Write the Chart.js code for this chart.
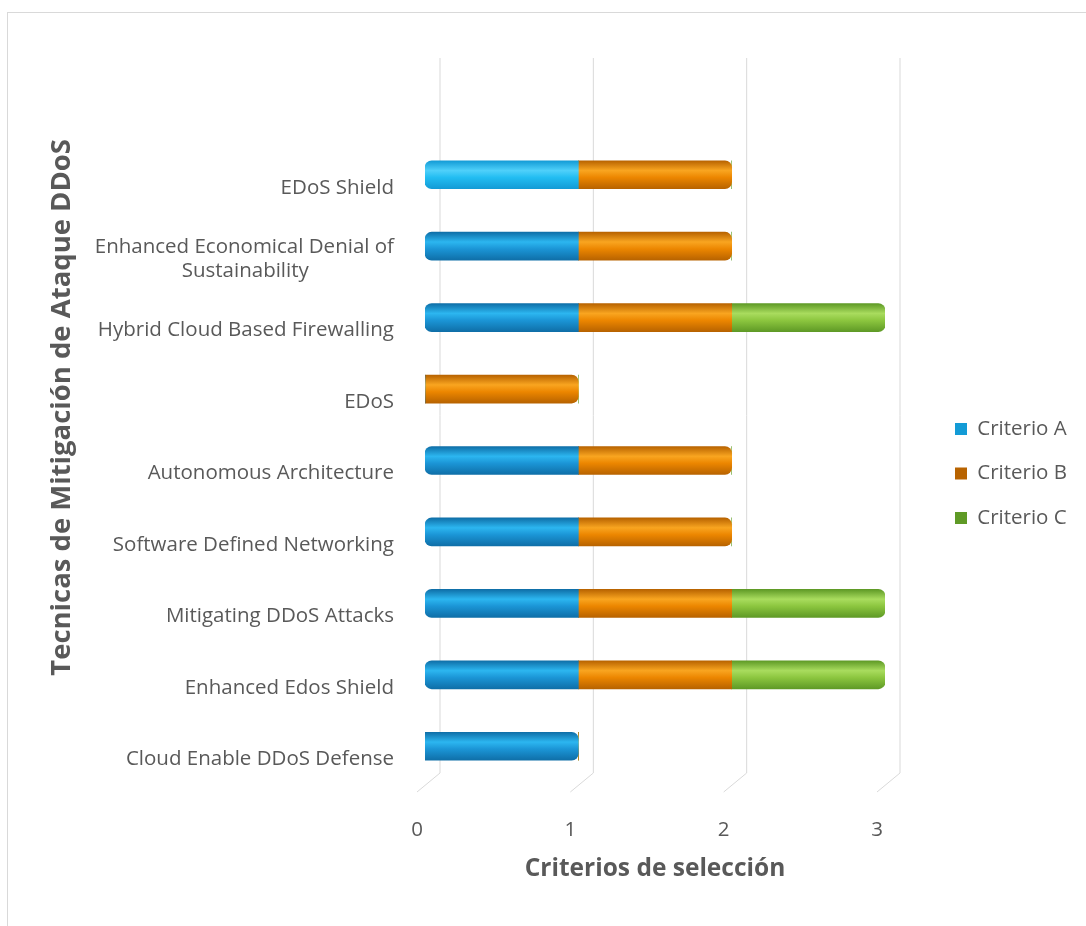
<!DOCTYPE html>
<html>
<head>
<meta charset="utf-8">
<script src="https://cdn.jsdelivr.net/npm/chart.js@4"></script>
<style>
  body { margin: 0; background: #fff; }
  #frame { position: absolute; left: 7px; top: 12px; width: 1100px; height: 940px; border: 1px solid #d9d9d9; }
  #wrap { position: absolute; left: 0; top: 0; width: 1086px; height: 926px; }
</style>
</head>
<body>
<div id="frame"></div>
<div id="wrap"><canvas id="myChart"></canvas></div>
<script>
"use strict";

var categories = [
    'EDoS Shield',
    ['Enhanced Economical Denial of', 'Sustainability'],
    'Hybrid Cloud Based Firewalling',
    'EDoS',
    'Autonomous Architecture',
    'Software Defined Networking',
    'Mitigating DDoS Attacks',
    'Enhanced Edos Shield',
    'Cloud Enable DDoS Defense'
];
var criterioA = [1, 1, 1, 0, 1, 1, 1, 1, 1];
var criterioB = [1, 1, 1, 1, 1, 1, 1, 1, 0];
var criterioC = [0, 0, 1, 0, 0, 0, 1, 1, 0];
var xTicks = [0, 1, 2, 3];

var textColor = '#595959';
var labelFont = { family: 'Open Sans', size: 20.5 };

// shades a bar like a cylinder: dark edge, light band, dark edge
// (the first row of Criterio A is brighter in the original)
function cylinder(dark, mid, light, bright) {
    return function(ctx) {
        var chart = ctx.chart;
        if (ctx.dataIndex === undefined || !chart.scales.y) return mid;
        var c = chart.scales.y.getPixelForValue(ctx.dataIndex);
        if (!isFinite(c)) return mid;
        var p = (bright && ctx.dataIndex === 0) ? bright : [dark, mid, light];
        var g = chart.ctx.createLinearGradient(0, c - 14, 0, c + 14);
        g.addColorStop(0, p[0]);
        g.addColorStop(0.35, p[2]);
        g.addColorStop(0.6, p[1]);
        g.addColorStop(1, p[0]);
        return g;
    };
}

// back wall gridlines of the 3D plot
var wallGrid = {
    id: 'wallGrid',
    beforeDatasetsDraw: function(chart) {
        var ctx = chart.ctx;
        var x = chart.scales.x;
        var area = chart.chartArea;
        ctx.save();
        ctx.strokeStyle = '#d9d9d9';
        ctx.lineWidth = 1;
        x.ticks.forEach(function(t) {
            var px = x.getPixelForValue(t.value);
            ctx.beginPath();
            ctx.moveTo(px + 15, area.top - 81);
            ctx.lineTo(px + 15, area.bottom - 9);
            ctx.lineTo(px - 8, area.bottom + 10);
            ctx.stroke();
        });
        ctx.restore();
    }
};

// move the legend a bit away from the plot
var legendNudge = {
    id: 'legendNudge',
    afterLayout: function(chart) {
        var lg = chart.legend;
        lg.left += 46; lg.right += 46;
        lg.top += 13; lg.bottom += 13;
    }
};

var myChart = new Chart(document.getElementById('myChart').getContext('2d'), {
    type: 'bar',
    data: {
        labels: categories,
        datasets: [
            { label: 'Criterio A', data: criterioA, backgroundColor: cylinder('#0f6fa8', '#1b95d6', '#2cb6f0', ['#139bd6', '#22bdf2', '#4fd0fa']) },
            { label: 'Criterio B', data: criterioB, backgroundColor: cylinder('#b86300', '#ec8600', '#f9a520') },
            { label: 'Criterio C', data: criterioC, backgroundColor: cylinder('#5f9a26', '#8cc63f', '#a9dc5e') }
        ]
    },
    plugins: [wallGrid, legendNudge],
    options: {
        indexAxis: 'y',
        responsive: true,
        maintainAspectRatio: false,
        animation: false,
        datasets: {
            bar: { barThickness: 28, borderRadius: 7, borderSkipped: 'middle', borderWidth: 0 }
        },
        layout: { padding: { top: 139, left: 0, right: 55, bottom: 0 } },
        scales: {
            x: {
                stacked: true,
                min: 0,
                max: 3,
                afterBuildTicks: function(scale) {
                    scale.ticks = xTicks.map(function(v) { return { value: v }; });
                },
                afterFit: function(scale) { scale.height = 144; },
                grid: { display: false },
                border: { display: false },
                ticks: { color: textColor, font: labelFont, padding: 28, labelOffset: -8 },
                title: {
                    display: true,
                    text: 'Criterios de selección',
                    color: textColor,
                    font: { family: 'Open Sans', size: 24.5, weight: 'bold' },
                    padding: { top: 0, bottom: 42 }
                }
            },
            y: {
                stacked: true,
                afterFit: function(scale) { scale.width = 425; },
                grid: { display: false },
                border: { display: false },
                ticks: {
                    color: textColor,
                    font: labelFont,
                    padding: 23,
                    labelOffset: 13,
                    // centre the lines of a wrapped label, like the original
                    callback: function(value) {
                        var label = this.getLabelForValue(value);
                        if (!Array.isArray(label)) return label;
                        var c = this.chart.ctx;
                        c.save();
                        c.font = labelFont.size + 'px "' + labelFont.family + '"';
                        var widths = label.map(function(l) { return c.measureText(l).width; });
                        var sp = c.measureText(' ').width;
                        c.restore();
                        var widest = Math.max.apply(null, widths);
                        return label.map(function(l, i) {
                            return l + ' '.repeat(Math.round((widest - widths[i]) / 2 / sp));
                        });
                    }
                },
                title: {
                    display: true,
                    text: 'Tecnicas de Mitigación de Ataque DDoS',
                    align: 'end',
                    color: textColor,
                    font: { family: 'Open Sans', size: 27.5, weight: 'bold' },
                    padding: { top: 46, bottom: 0 }
                }
            }
        },
        plugins: {
            legend: {
                position: 'right',
                fullSize: false,
                labels: { color: textColor, font: labelFont, boxWidth: 12, boxHeight: 12, padding: 24 }
            },
            tooltip: { enabled: false }
        }
    }
});
</script>
</body>
</html>
